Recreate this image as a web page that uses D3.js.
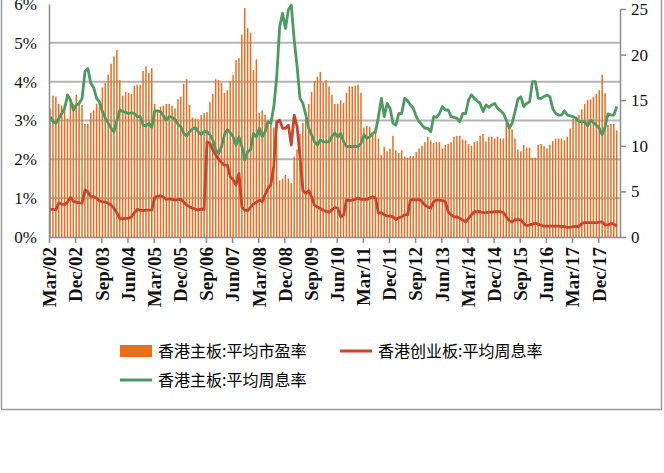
<!DOCTYPE html>
<html>
<head>
<meta charset="utf-8">
<script src="https://cdn.jsdelivr.net/npm/d3@7"></script>
<style>
  body { margin: 0; background: #fff; }
  svg { display: block; }
</style>
</head>
<body>
<div id="chart"></div>
<script>
// series, monthly from Mar/2002
const peRatio = [
  14.1, 15.5, 15.4, 14.6, 14.4, 14.6, 13.0, 15.0, 14.6, 15.6, 14.8, 14.5,
  12.4, 12.4, 13.6, 13.9, 14.6, 15.0, 16.4, 16.9, 17.8, 19.0, 19.8, 20.5,
  17.2, 15.5, 15.9, 15.8, 15.7, 16.6, 16.7, 16.7, 18.2, 18.7, 18.0, 18.5,
  14.6, 13.9, 14.3, 14.4, 14.6, 14.6, 14.4, 14.1, 15.1, 15.4, 16.8, 17.3,
  14.5, 13.1, 13.0, 12.9, 13.4, 13.6, 13.7, 14.8, 15.7, 17.3, 17.2, 16.9,
  15.8, 16.1, 17.1, 17.8, 19.4, 19.6, 22.2, 25.1, 22.9, 22.4, 18.3, 19.5,
  13.6, 13.9, 13.4, 12.3, 13.0, 12.0, 10.9, 6.2, 6.4, 6.8, 6.4, 5.9,
  8.8, 9.6, 11.3, 12.5, 13.7, 14.6, 15.9, 17.1, 17.6, 18.1, 16.9, 17.2,
  16.5, 15.6, 14.6, 14.6, 15.0, 14.7, 15.8, 16.5, 16.5, 16.6, 16.7, 15.8,
  12.0, 12.2, 12.1, 11.4, 12.0, 10.8, 9.0, 9.9, 9.4, 9.7, 11.1, 9.5,
  9.2, 9.5, 8.8, 8.7, 8.9, 8.9, 9.3, 9.7, 10.0, 10.4, 11.0, 10.6,
  10.3, 10.4, 10.4, 9.7, 10.1, 10.2, 10.4, 11.0, 11.1, 11.1, 10.7, 10.6,
  10.2, 10.0, 10.4, 10.5, 11.1, 11.3, 10.5, 11.0, 11.0, 10.8, 11.0, 10.8,
  10.8, 12.5, 12.1, 11.8, 10.8, 9.6, 9.4, 10.1, 9.8, 9.8, 8.7, 8.7,
  10.1, 10.2, 10.0, 9.7, 10.1, 10.5, 10.8, 10.8, 10.8, 10.6, 11.0, 11.9,
  13.0, 13.2, 13.4, 14.0, 14.6, 15.0, 15.1, 15.4, 15.7, 16.1, 17.8, 15.8,
  12.3, 12.4, 12.4, 11.7
];

const mainYield = [
  3.10, 2.97, 2.93, 3.06, 3.18, 3.31, 3.66, 3.53, 3.27, 3.40, 3.44, 3.57,
  4.26, 4.34, 3.96, 3.85, 3.57, 3.48, 3.23, 3.06, 2.93, 2.80, 2.71, 3.01,
  3.27, 3.23, 3.21, 3.18, 3.20, 3.18, 3.10, 3.10, 2.88, 2.86, 2.93, 2.82,
  3.25, 3.25, 3.23, 3.12, 3.01, 3.10, 3.08, 3.03, 2.90, 2.84, 2.67, 2.60,
  2.71, 2.78, 2.82, 2.71, 2.64, 2.71, 2.71, 2.63, 2.50, 2.24, 2.15, 2.33,
  2.63, 2.76, 2.69, 2.58, 2.37, 2.58, 2.33, 1.98, 2.20, 2.24, 2.67, 2.58,
  2.80, 2.58, 2.71, 2.97, 2.93, 3.36, 4.13, 5.42, 5.76, 5.37, 5.85, 5.97,
  5.07, 4.39, 3.57, 3.44, 3.14, 2.80, 2.63, 2.45, 2.37, 2.50, 2.45, 2.45,
  2.45, 2.60, 2.68, 2.57, 2.67, 2.45, 2.33, 2.33, 2.33, 2.33, 2.33, 2.41,
  2.63, 2.54, 2.58, 2.67, 2.71, 3.10, 3.57, 3.10, 3.44, 3.31, 2.93, 2.88,
  3.18, 3.18, 3.57, 3.51, 3.40, 3.31, 3.10, 2.97, 2.88, 2.80, 2.80, 2.71,
  3.10, 3.08, 3.18, 3.36, 3.27, 3.27, 3.10, 3.08, 3.06, 2.97, 3.18, 3.18,
  3.53, 3.66, 3.57, 3.50, 3.44, 3.23, 3.40, 3.34, 3.40, 3.44, 3.31, 3.25,
  3.18, 3.01, 2.80, 2.93, 3.23, 3.55, 3.61, 3.36, 3.44, 3.48, 4.00, 4.00,
  3.57, 3.57, 3.62, 3.66, 3.61, 3.30, 3.18, 3.14, 3.14, 3.25, 3.14, 3.12,
  3.10, 3.06, 2.97, 2.97, 2.97, 2.86, 3.01, 2.94, 2.88, 2.80, 2.63, 2.84,
  3.17, 3.14, 3.14, 3.36
];

const gemYield = [
  0.71, 0.71, 0.70, 0.88, 0.85, 0.83, 0.90, 1.02, 0.92, 0.90, 0.88, 0.87,
  1.21, 1.16, 1.04, 1.04, 1.00, 0.93, 0.91, 0.90, 0.87, 0.82, 0.74, 0.62,
  0.47, 0.47, 0.48, 0.48, 0.52, 0.62, 0.71, 0.69, 0.68, 0.69, 0.69, 0.70,
  1.02, 1.05, 1.06, 1.03, 0.97, 0.98, 0.97, 0.95, 0.96, 0.97, 0.90, 0.82,
  0.78, 0.74, 0.72, 0.70, 0.72, 0.71, 2.45, 2.41, 2.24, 2.11, 2.00, 1.92,
  1.85, 1.85, 1.55, 1.47, 1.34, 1.64, 0.77, 0.69, 0.68, 0.77, 0.85, 0.90,
  0.95, 0.91, 1.10, 1.25, 1.35, 1.85, 2.97, 3.01, 2.80, 2.80, 2.88, 2.37,
  3.14, 2.84, 2.07, 1.20, 1.12, 1.20, 1.03, 0.82, 0.77, 0.73, 0.69, 0.66,
  0.64, 0.70, 0.76, 0.74, 0.52, 0.57, 0.95, 0.94, 0.95, 0.97, 1.00, 0.97,
  0.97, 0.97, 1.00, 1.04, 1.00, 0.61, 0.63, 0.57, 0.54, 0.54, 0.52, 0.45,
  0.50, 0.52, 0.57, 0.57, 0.95, 0.97, 0.95, 0.97, 0.91, 0.82, 0.78, 0.74,
  0.91, 0.95, 0.95, 0.94, 0.91, 0.65, 0.57, 0.52, 0.52, 0.48, 0.44, 0.39,
  0.48, 0.57, 0.65, 0.65, 0.65, 0.63, 0.63, 0.64, 0.64, 0.65, 0.65, 0.65,
  0.63, 0.52, 0.42, 0.39, 0.44, 0.45, 0.44, 0.35, 0.29, 0.31, 0.33, 0.35,
  0.33, 0.30, 0.28, 0.28, 0.28, 0.28, 0.28, 0.28, 0.27, 0.27, 0.25, 0.25,
  0.27, 0.27, 0.27, 0.35, 0.37, 0.37, 0.37, 0.37, 0.37, 0.38, 0.39, 0.31,
  0.31, 0.35, 0.33, 0.28
];

// categories: months starting Mar/2002
const months = peRatio.map((d, i) => new Date(2002, 2 + i, 1));
const xTickIdx = d3.range(0, months.length, 9);
const leftTicks = [0, 1, 2, 3, 4, 5, 6];
const rightTicks = [0, 5, 10, 15, 20, 25];

const legendNames = ["香港主板:平均市盈率", "香港创业板:平均周息率", "香港主板:平均周息率"];
const orange = "#ea6e20", red = "#c9452a", green = "#4d9a62";

const width = 664, height = 473;

const svg = d3.select("#chart").append("svg")
  .attr("width", width)
  .attr("height", height);

// outer frame
svg.append("rect")
  .attr("x", 1.5).attr("y", -10)
  .attr("width", 660).attr("height", 419.5)
  .attr("fill", "none").attr("stroke", "#9a9a9a").attr("stroke-width", 1.5);

const x = d3.scaleLinear().domain([0, 196.5]).range([49, 620]);
const yL = d3.scaleLinear().domain([0, 6]).range([237, 4]);
const yR = d3.scaleLinear().domain([0, 25]).range([237, 9]);

// grid lines
svg.append("g").selectAll("line")
  .data(leftTicks.filter(d => d > 0 && d < 6))
  .join("line")
  .attr("x1", 49).attr("x2", 620)
  .attr("y1", d => yL(d)).attr("y2", d => yL(d))
  .attr("stroke", "#b4b4b4").attr("stroke-width", 2);

// bars (PE, right axis)
svg.append("g").selectAll("rect")
  .data(peRatio)
  .join("rect")
  .attr("x", (d, i) => x(i) + 0.3)
  .attr("width", 1.5)
  .attr("y", d => yR(d))
  .attr("height", d => yR(0) - yR(d))
  .attr("fill", orange);

const line = d3.line()
  .x((d, i) => x(i) + 1.1)
  .y(d => yL(d));

svg.append("path")
  .datum(gemYield)
  .attr("d", line)
  .attr("fill", "none")
  .attr("stroke", red)
  .attr("stroke-width", 2.8)
  .attr("stroke-linejoin", "round");

svg.append("path")
  .datum(mainYield)
  .attr("d", line)
  .attr("fill", "none")
  .attr("stroke", green)
  .attr("stroke-width", 2.8)
  .attr("stroke-linejoin", "round");

const serif = "'Liberation Serif', 'DejaVu Serif', serif";
const fmt = d3.timeFormat("%b/%y");

// x axis
const gx = svg.append("g")
  .attr("transform", "translate(0,237)")
  .call(d3.axisBottom(x)
    .tickValues(xTickIdx)
    .tickSize(6)
    .tickSizeOuter(0)
    .tickFormat(i => fmt(months[i])));
gx.selectAll("text")
  .attr("transform", "rotate(-90)")
  .attr("x", -10).attr("y", 0).attr("dy", "0.36em")
  .attr("text-anchor", "end")
  .style("font-family", serif).style("font-size", "19px")
  .style("font-weight", "bold").attr("fill", "#111");

// left axis
const gl = svg.append("g")
  .attr("transform", "translate(49,0)")
  .call(d3.axisLeft(yL)
    .tickValues(leftTicks)
    .tickSize(0)
    .tickPadding(12)
    .tickFormat(d => d + "%"));
gl.selectAll("text")
  .style("font-family", serif).style("font-size", "17px").attr("fill", "#111");

// right axis
const gr = svg.append("g")
  .attr("transform", "translate(620,0)")
  .call(d3.axisRight(yR)
    .tickValues(rightTicks)
    .tickSize(6)
    .tickSizeOuter(0)
    .tickPadding(5));
gr.selectAll("text")
  .style("font-family", serif).style("font-size", "17px").attr("fill", "#111");

[gx, gl, gr].forEach(g => {
  g.select(".domain").attr("stroke", "#8c8c8c").attr("stroke-width", 1.5);
  g.selectAll(".tick line").attr("stroke", "#8c8c8c").attr("stroke-width", 1.5);
});

// legend
const cjk = "'Noto Sans CJK SC', sans-serif";
const lg = svg.append("g").style("font-family", cjk).style("font-size", "16px");

lg.append("rect").attr("x", 120).attr("y", 345).attr("width", 32).attr("height", 12).attr("fill", orange);
lg.append("text").attr("x", 158).attr("y", 351).attr("dy", "0.35em").text(legendNames[0]);

lg.append("line").attr("x1", 340).attr("x2", 372).attr("y1", 351).attr("y2", 351)
  .attr("stroke", red).attr("stroke-width", 3);
lg.append("text").attr("x", 378).attr("y", 351).attr("dy", "0.35em").text(legendNames[1]);

lg.append("line").attr("x1", 120).attr("x2", 152).attr("y1", 380).attr("y2", 380)
  .attr("stroke", green).attr("stroke-width", 3);
lg.append("text").attr("x", 158).attr("y", 380).attr("dy", "0.35em").text(legendNames[2]);
</script>
</body>
</html>
